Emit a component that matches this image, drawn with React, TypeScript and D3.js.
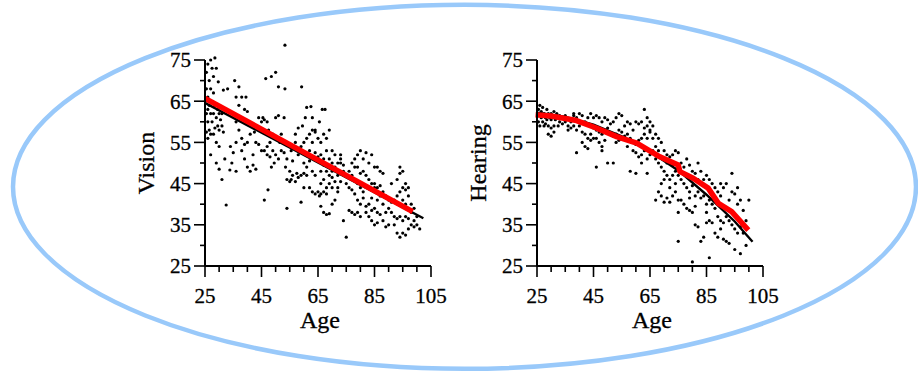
import React from "react";
import * as d3 from "d3";

const xTicks = [25, 45, 65, 85, 105];
const yTicks = [25, 35, 45, 55, 65, 75];
const minorX = d3.range(25, 106, 5);
const minorY = d3.range(25, 76, 5);

const visionPoints: [number, number][] = [
  [25.5,72],[26,74],[26.5,70],[27,75],[27.5,73],[28,71],[28.5,75.5],[29,73],[25.5,68],[26,66],[26.5,64],[27,62],[25.5,62],[26,60],[26.5,58],[27,57],[28,57],[25.5,57.5],[27.5,60],[28,62],[28.5,64],[29,61],[29.5,59],[30,58],[29.5,63],[30,62],[28,67],[27,68],[26,63],[29,55],[30,54],[26,56],[28.5,58.5],[30.5,60.5],[31,59],[31.5,57.5],[31,62],[30,48.5],[31,46],[29,50],[27,52],[31.5,67.7],[29.7,69.7],
  [34,54],[35,52.5],[36,55],[37,58],[38,53],[39,54.5],[40,49],[41,48],[42,49.5],[43,48.5],[38,56],[36,60],[35,62],[37,64],[39,63],[40,55],[41,57],[42,52],[43,55],[44,58],[45,60],[44,61],[36,66],[37,68.5],[38,66],[39.5,66],[35.5,70],[33,68],[40,62.5],[34.5,50],[36,48],[32.5,39.8],[42.5,57.5],[39,51],[44,54.5],[33.8,48.3],[32,51],
  [45.5,61],[46,60.5],[47,60],[47.5,58],[46,53],[47,52],[48,51.5],[49,53],[50,52],[51,51],[49.5,50],[48,55],[50,56],[51.5,55],[52,53],[53,52.5],[54,51],[49,57],[52,57],[53,61],[50,61],[51,61.5],[46.5,70.5],[48.5,71],[50,72],[51,68.5],[53.3,68],[53.3,78.6],[46,41],[47.3,43.5],[54,39],[54,46],[55,45.5],[53.5,49],[55,48],[48.5,49],[47,54],[45,53],
  [55.5,46],[56,47],[57,45.5],[57.5,47.5],[58,46.5],[59,47],[60,47.5],[61,47],[59,40.5],[60,50],[61,49],[62,50.5],[58,52],[59,54],[60,55],[61,56],[62,57],[63,58],[64,58],[57,57],[58,58.5],[59.5,59],[60.5,61],[61,63.5],[62.5,63.7],[63,61],[64,57.5],[65,56],[63,55],[62,53],[64,52.5],[65,51.5],[63,48],[64,47],[62,44],[63,43],[64,42.5],[65,43],[60,44],[57,55],[59.2,68.5],[56,50.5],[55.5,53],
  [65.5,42],[66,42.5],[67,43],[68,42.5],[66,45],[67,46],[68,44],[69,45],[70,44],[66,48],[67,49.5],[68,48],[69,47],[70,46.5],[71,45.5],[72,44],[66,52],[67,51],[68,53],[69,51],[70,50],[71,49],[72,50],[73,51],[74,49.5],[66,55],[67,57],[68,56],[69,58],[70,53],[71,52],[73,50],[74,48],[75,47],[66.5,63],[67.5,63],[65.5,60],[67,38],[68,37.5],[69,37.7],[70,40],[72,43],[73,45.5],[75,45],[75,32],[71,41],[66,39.5],[74,36],[72,47],[73,52],[70,48],
  [76,48],[77,47],[78,46],[79,45],[80,44],[81,43],[77,43.5],[78,42.5],[79,41],[80,40],[81,41.5],[82,39.5],[83,40],[84,38.5],[85,39],[76,38.5],[77,38],[78,37.5],[79,38],[80,37],[82,38],[83,37],[76,44],[77,50],[78,51],[79,52],[80,53],[81,51],[82,52.5],[83,50],[84,52],[85,49],[81,48],[82,47],[83,46],[84,45],[85,44],[79,49],[80,47.5],[78,49],[84,41.5],[85,35],[86,35.5],[86,44],[87,44.5],[88,43],[86,41],[87,42],[88,40],[86,38],[87,37.5],[88,36],[89,38],[90,35],[84,36],[85,45],[86,49],[87,48],[88,47.5],
  [89,42],[90,41],[91,40.5],[92,41],[93,42],[94,43],[95,44],[96,43.5],[97,42],[91,38],[92,37],[93,36.5],[94,37],[95,36],[96,37],[97,36.5],[98,38],[99,36],[100,35],[101,34],[92,35],[93,33],[94,32],[95,33],[96,32.5],[97,34],[93,46],[94,47.5],[94,49],[95,48],[96,45],[97,44],[98,40],[99,39],[100,37],[91,45],[90,39],[89,34.5],[95,41],[96,40],[98,35],[99,34.5]
];

const hearingPoints: [number, number][] = [
  [25.5,63],[26,64],[26.5,62.5],[27,63.5],[27.5,62],[28,61],[28.5,63],[29,62],[29.5,61],[30,60.5],[25.5,60],[26,59],[27,60],[28,59.5],[29,59],[30,58.5],[31,59],[31.5,60.5],[32,61],[33,60],[34,59.5],[35,60],[26.5,61],[27.5,59],[28.5,60.5],[30,62],[31,62.5],[32,62],[33,61.5],[34,61],[35,61.5],[29,57],[30,56.5],[25.5,61.5],[26,62],[27,61.7],[32.5,59],[31,57.5],
  [36,59],[37,60],[38,61.5],[39,61],[40,62],[41,61.5],[42,60],[43,61],[44,62],[45,61],[36,58],[37,58.5],[38,59],[39,58],[40,59],[41,57.5],[42,57],[43,56],[44,57],[45,56],[39,52.5],[41,55],[42,54],[43,53.5],[44,55.5],[45,58.5],[38,62],[40,60],[46,49],
  [46,61.5],[47,61],[48,60],[49,61],[50,60.5],[51,59.5],[52,60],[53,61],[54,62],[55,61.5],[46,58],[47,57.5],[48,57],[49,58],[50,58.5],[51,57],[52,56.5],[53,57],[54,58],[55,57.5],[47,55],[48,54],[49,55.5],[50,50],[52,50],[54,55.5],[53,55],[55,56],[46,56],[48,53],
  [56,59],[57,60],[58,59.5],[59,58],[60,60],[61,59.5],[62,60],[63,58.5],[64,59],[65,60],[56,56.5],[57,57],[58,56],[59,55],[60,54.5],[61,55.5],[62,56],[63,57],[64,56],[65,57.5],[60,52.5],[61,51.5],[62,52],[63,53],[64,51],[65,52],[58,48],[60,47.5],[59,53],[57,54],[63,63],[64,61],[65,58],[64,47.5],[62,50],
  [66,59],[67,57],[68,56],[69,55],[70,53],[71,52],[72,51.5],[73,52],[74,53],[75,52.5],[66,53],[67,51],[68,50],[69,49],[70,48],[71,47],[72,46],[73,47],[74,48],[75,47],[67,41],[68,43],[69,42],[70,40.5],[71,41.5],[72,40.5],[73,42],[74,43],[75,41],[69,45],[70,46],[72,44],[74,45],[75,38],[75,31],[66,56],[67,54],[68,53],[71,50],[73,49.5],
  [76,50],[77,49],[78,51],[79,49.5],[80,48],[81,47.5],[82,50],[83,48],[84,46],[85,47],[76,46],[77,45],[78,44],[79,43],[80,44.5],[81,42],[82,43],[83,41.5],[84,42],[85,40],[76,41],[77,40],[78,39],[79,38.5],[80,38],[81,35],[82,34.5],[83,31],[84,32],[85,35.5],[80,26],[86,27],[79,41.5],[82,46],[84,44.5],[81,39.5],
  [86,46],[87,45],[88,44],[89,43],[90,42],[91,44],[92,45],[93,41],[94,43],[95,42.5],[96,40],[97,41],[98,38.5],[100,41],[86,41],[87,40],[88,39],[89,37],[90,36],[91,35.5],[92,37],[93,36],[94,35],[95,34],[96,33],[97,34.5],[98,33],[99,36],[86,36],[87,35.5],[88,33],[89,32],[90,34],[91,31.5],[92,31],[93,30.5],[95,29],[97,28],[94,47.5],[96,44],[99,30],[85,38],[90,45]
];

const visionTrend: [number, number][] = [[25, 64.6], [102.3, 36.6]];
const visionFit: [number, number][] = [[25, 65.7], [98.5, 38.2]];
const hearingTrend: [number, number][] = [[25,62.2],[35,61.2],[45,59.3],[55,56.5],[65,52.8],[75,48.2],[85,42.3],[95,35.8],[101.3,30.9]];
const hearingFit: [number, number][] = [[24.5,61.7],[30,61.4],[39,60.3],[46,58.5],[53.2,56.4],[60.3,54.8],[68.5,51.5],[75,49.5],[75.6,47.9],[80.3,46.3],[85.6,43.9],[89.2,40.2],[93.9,38.2],[99.8,33.7]];

const W = 226;
const H = 206;
const x = d3.scaleLinear().domain([25, 105]).range([0, W]);
const y = d3.scaleLinear().domain([25, 75]).range([H, 0]);
const font = "'Liberation Serif', 'Times New Roman', serif";

function Panel({ left, top, label, points, trend, fit }: any) {
  const line = d3.line<[number, number]>().x(d => x(d[0])).y(d => y(d[1]));
  return (
    <g transform={`translate(${left},${top})`}>
      {points.map((p: [number, number], i: number) => (
        <circle key={i} cx={x(p[0])} cy={y(p[1])} r={1.6} fill="#000" />
      ))}
      <path d={line(trend) || ""} fill="none" stroke="#000" strokeWidth={2.4} />
      <path d={line(fit) || ""} fill="none" stroke="#ff0000" strokeWidth={5.5} strokeLinejoin="round" />
      <line x1={0} x2={0} y1={y(75)} y2={y(25)} stroke="#000" strokeWidth={2} />
      <line x1={x(25)} x2={x(105)} y1={H} y2={H} stroke="#000" strokeWidth={2} />
      {minorY.map(v => {
        const major = yTicks.includes(v);
        return <line key={"my" + v} x1={major ? -11 : -5} x2={0} y1={y(v)} y2={y(v)} stroke="#000" strokeWidth={1.6} />;
      })}
      {minorX.map(v => {
        const major = xTicks.includes(v);
        return <line key={"mx" + v} x1={x(v)} x2={x(v)} y1={H} y2={H + (major ? 11 : 6)} stroke="#000" strokeWidth={1.6} />;
      })}
      {yTicks.map(v => (
        <text key={"ty" + v} x={-14} y={y(v)} dy="0.35em" textAnchor="end" fontFamily={font} fontSize={21} fill="#000" stroke="#000" strokeWidth={0.3}>{v}</text>
      ))}
      {xTicks.map(v => (
        <text key={"tx" + v} x={x(v)} y={H + 37} textAnchor="middle" fontFamily={font} fontSize={21} fill="#000" stroke="#000" strokeWidth={0.3}>{v}</text>
      ))}
      <text x={W / 2 + 2} y={H + 62} textAnchor="middle" fontFamily={font} fontSize={24} fill="#000" stroke="#000" strokeWidth={0.3}>Age</text>
      <text transform={`translate(${-51},${H / 2}) rotate(-90)`} textAnchor="middle" fontFamily={font} fontSize={24} fill="#000" stroke="#000" strokeWidth={0.3}>{label}</text>
    </g>
  );
}

export default function App() {
  return (
    <div style={{ position: "fixed", left: 0, top: 0 }}>
      <svg width={918} height={373} style={{ display: "block", background: "#fff" }}>
        <ellipse cx={464.5} cy={186.8} rx={451.5} ry={182} fill="none" stroke="#99c9fa" strokeWidth={4.5} />
        <Panel left={205} top={60} label="Vision" points={visionPoints} trend={visionTrend} fit={visionFit} />
        <Panel left={537} top={60} label="Hearing" points={hearingPoints} trend={hearingTrend} fit={hearingFit} />
      </svg>
    </div>
  );
}
